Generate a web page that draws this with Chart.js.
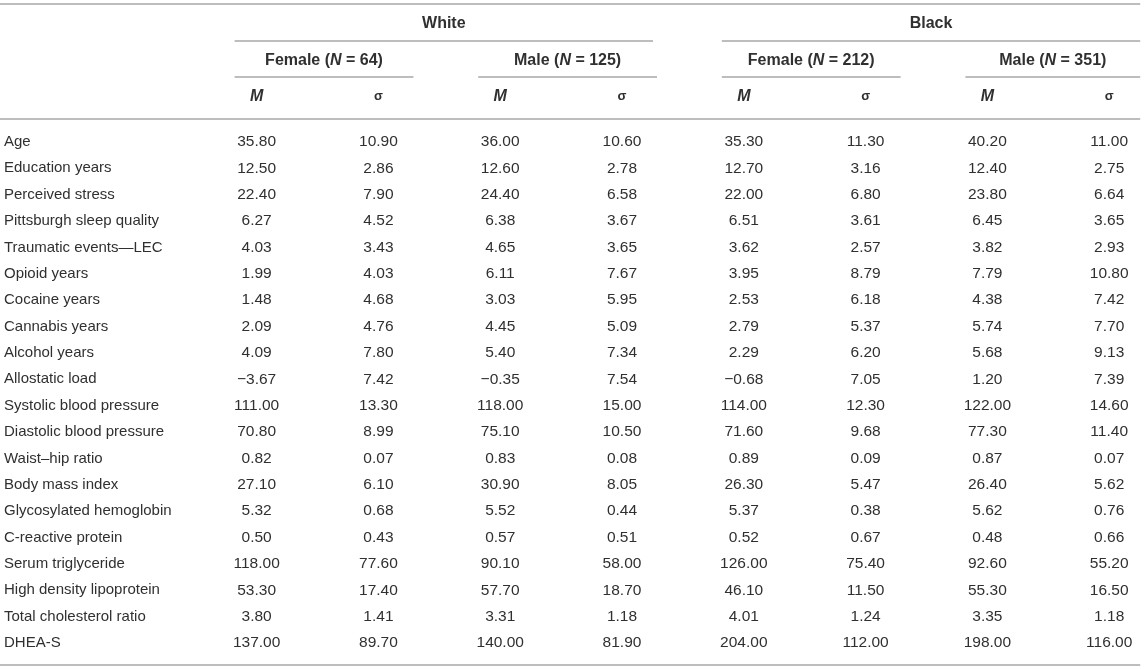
<!DOCTYPE html>
<html>
<head>
<meta charset="utf-8">
<title>Descriptive statistics by race and sex</title>
<script src="https://cdn.jsdelivr.net/npm/chart.js@4.4.0/dist/chart.umd.min.js"></script>
<style>
  html, body { margin: 0; padding: 0; background: #fff; }
  #wrap { width: 1145px; height: 669px; position: relative; }
</style>
</head>
<body>
<div id="wrap"><canvas id="table"></canvas></div>
<script>
// row labels of the table
const rowLabels = [
    'Age', 'Education years', 'Perceived stress', 'Pittsburgh sleep quality',
    'Traumatic events\u2014LEC', 'Opioid years', 'Cocaine years', 'Cannabis years',
    'Alcohol years', 'Allostatic load', 'Systolic blood pressure', 'Diastolic blood pressure',
    'Waist\u2013hip ratio', 'Body mass index', 'Glycosylated hemoglobin', 'C-reactive protein',
    'Serum triglyceride', 'High density lipoprotein', 'Total cholesterol ratio', 'DHEA-S'
];

// header texts
const groups = ['White', 'Black'];
const subgroupSex = ['Female', 'Male', 'Female', 'Male'];
const subgroupN = [64, 125, 212, 351];
const statLabels = ['M', '\u03c3'];

// one array per column
const whiteFemaleM  = [35.80, 12.50, 22.40, 6.27, 4.03, 1.99, 1.48, 2.09, 4.09, -3.67, 111.00, 70.80, 0.82, 27.10, 5.32, 0.50, 118.00, 53.30, 3.80, 137.00];
const whiteFemaleSD = [10.90, 2.86, 7.90, 4.52, 3.43, 4.03, 4.68, 4.76, 7.80, 7.42, 13.30, 8.99, 0.07, 6.10, 0.68, 0.43, 77.60, 17.40, 1.41, 89.70];
const whiteMaleM    = [36.00, 12.60, 24.40, 6.38, 4.65, 6.11, 3.03, 4.45, 5.40, -0.35, 118.00, 75.10, 0.83, 30.90, 5.52, 0.57, 90.10, 57.70, 3.31, 140.00];
const whiteMaleSD   = [10.60, 2.78, 6.58, 3.67, 3.65, 7.67, 5.95, 5.09, 7.34, 7.54, 15.00, 10.50, 0.08, 8.05, 0.44, 0.51, 58.00, 18.70, 1.18, 81.90];
const blackFemaleM  = [35.30, 12.70, 22.00, 6.51, 3.62, 3.95, 2.53, 2.79, 2.29, -0.68, 114.00, 71.60, 0.89, 26.30, 5.37, 0.52, 126.00, 46.10, 4.01, 204.00];
const blackFemaleSD = [11.30, 3.16, 6.80, 3.61, 2.57, 8.79, 6.18, 5.37, 6.20, 7.05, 12.30, 9.68, 0.09, 5.47, 0.38, 0.67, 75.40, 11.50, 1.24, 112.00];
const blackMaleM    = [40.20, 12.40, 23.80, 6.45, 3.82, 7.79, 4.38, 5.74, 5.68, 1.20, 122.00, 77.30, 0.87, 26.40, 5.62, 0.48, 92.60, 55.30, 3.35, 198.00];
const blackMaleSD   = [11.00, 2.75, 6.64, 3.65, 2.93, 10.80, 7.42, 7.70, 9.13, 7.39, 14.60, 11.40, 0.07, 5.62, 0.76, 0.66, 55.20, 16.50, 1.18, 116.00];

const columns = [whiteFemaleM, whiteFemaleSD, whiteMaleM, whiteMaleSD,
                 blackFemaleM, blackFemaleSD, blackMaleM, blackMaleSD];

// where the header rows and rules sit, in row units of the y scale
const headerRows = { group: -4.5, sub: -3.07, stat: -1.71 };
const ruleRows = { top: -5.23, group: -3.83, sub: -2.46, stat: -0.87, bottom: 19.83 };

const FONT = '"Liberation Sans", Arial, Helvetica, sans-serif';
const TEXT = '#303030';
const RULE = '#bdbdbd';

function fmt(v) {
    const s = Math.abs(v).toFixed(2);
    return v < 0 ? '\u2212' + s : s;
}

// draw text made of parts with different fonts, centred on x
function drawParts(ctx, parts, x, y) {
    let total = 0;
    parts.forEach(p => { ctx.font = p.font; total += ctx.measureText(p.text).width; });
    let cx = x - total / 2;
    parts.forEach(p => {
        ctx.font = p.font;
        ctx.fillText(p.text, cx, y);
        cx += ctx.measureText(p.text).width;
    });
}

const tablePlugin = {
    id: 'tablePlugin',
    afterDatasetsDraw(chart) {
        const ctx = chart.ctx;
        const xs = chart.scales.x;
        const ys = chart.scales.y;
        const area = chart.chartArea;
        const px = i => xs.getPixelForValue(i);
        const py = v => ys.getPixelForValue(v);
        const right = Math.min(px(columns.length - 1) + 31, area.right - 4);

        ctx.save();
        ctx.strokeStyle = RULE;
        ctx.lineWidth = 2;
        const rule = (x1, x2, y) => {
            ctx.beginPath();
            ctx.moveTo(x1, Math.round(y));
            ctx.lineTo(Math.min(x2, right), Math.round(y));
            ctx.stroke();
        };
        rule(area.left, right, py(ruleRows.top));
        rule(area.left, right, py(ruleRows.stat));
        rule(area.left, right, py(ruleRows.bottom));

        ctx.fillStyle = TEXT;
        ctx.textBaseline = 'middle';
        const bold = 'bold 16px ' + FONT;
        const boldIt = 'italic bold 16px ' + FONT;

        // race groups, each over four columns
        groups.forEach((g, gi) => {
            const x1 = px(gi * 4) - 22;
            const x2 = Math.min(px(gi * 4 + 3) + 31, right);
            rule(x1, x2, py(ruleRows.group));
            drawParts(ctx, [{ text: g, font: bold }], (x1 + x2) / 2, py(headerRows.group));
        });

        // sex subgroups, each over two columns
        subgroupSex.forEach((s, si) => {
            const x1 = px(si * 2) - 22;
            const x2 = Math.min(px(si * 2 + 1) + 35, right);
            rule(x1, x2, py(ruleRows.sub));
            drawParts(ctx, [
                { text: s + ' (', font: bold },
                { text: 'N', font: boldIt },
                { text: ' = ' + subgroupN[si] + ')', font: bold }
            ], (x1 + x2) / 2, py(headerRows.sub));
        });

        // M / sigma
        ctx.textAlign = 'center';
        columns.forEach((c, ci) => {
            ctx.font = ci % 2 === 0 ? boldIt : 'bold 13px ' + FONT;
            ctx.fillText(statLabels[ci % 2], px(ci), py(headerRows.stat));
        });

        // row labels
        ctx.font = '15px ' + FONT;
        ctx.textAlign = 'left';
        rowLabels.forEach((l, ri) => ctx.fillText(l, area.left + 4, py(ri)));

        // cell values, at the points the library placed
        ctx.font = '15.5px ' + FONT;
        ctx.textAlign = 'center';
        chart.data.datasets.forEach((ds, di) => {
            chart.getDatasetMeta(di).data.forEach((el, ri) => {
                ctx.fillText(fmt(ds.data[ri].v), el.x, el.y);
            });
        });
        ctx.restore();
    }
};

new Chart(document.getElementById('table'), {
    type: 'scatter',
    data: {
        datasets: columns.map((col, ci) => ({
            label: 'col' + ci,
            data: col.map((v, ri) => ({ x: ci, y: ri, v: v })),
            pointRadius: 0,
            pointHoverRadius: 0
        }))
    },
    options: {
        responsive: true,
        maintainAspectRatio: false,
        animation: false,
        devicePixelRatio: 1,
        layout: { padding: 0 },
        events: [],
        plugins: { legend: { display: false }, tooltip: { enabled: false } },
        scales: {
            x: { type: 'linear', display: false, min: -2.107, max: 7.294 },
            y: { type: 'linear', display: false, reverse: true, min: -5.385, max: 19.987 }
        }
    },
    plugins: [tablePlugin]
});
</script>
</body>
</html>
